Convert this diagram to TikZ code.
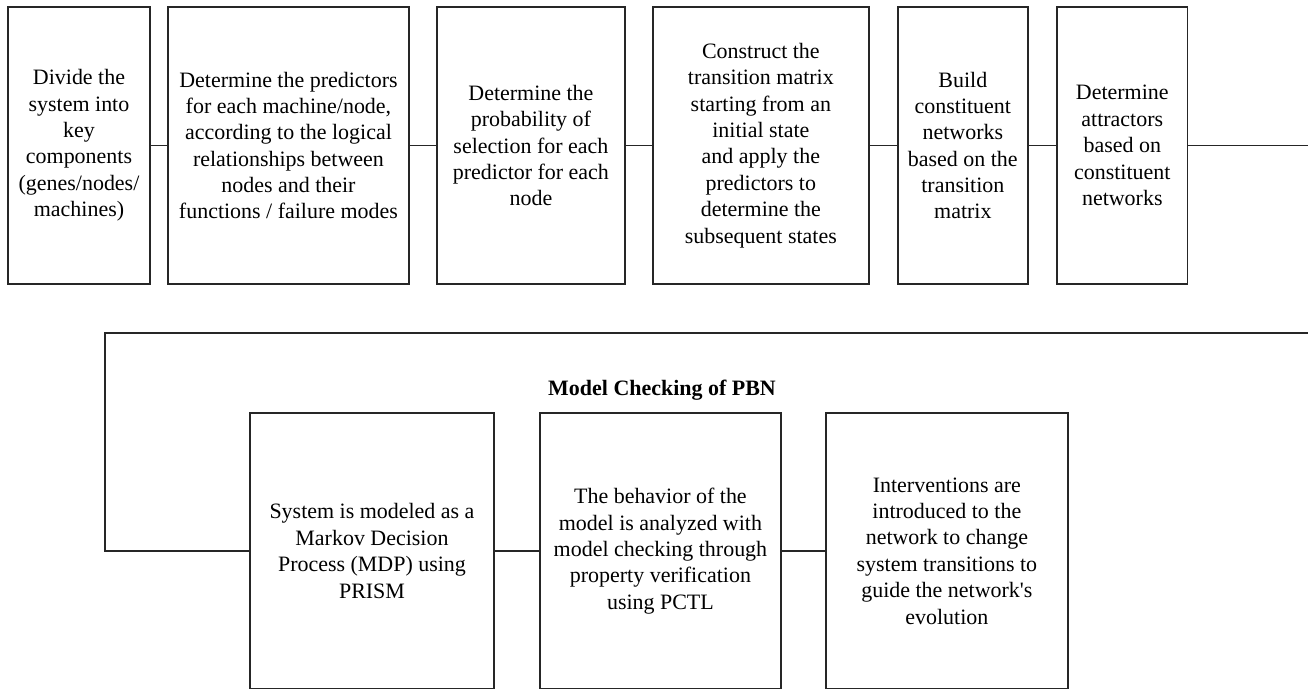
\documentclass[tikz,border=0pt]{standalone}
\usepackage{fontspec}
\setmainfont{Liberation Serif}
\usetikzlibrary{positioning}

\begin{document}
\begin{tikzpicture}[x=0.02cm,y=-0.02cm]
\tikzset{etape/.style={draw=black!85,line width=0.8pt,align=center,inner sep=0pt,outer sep=0pt,
  minimum height=5.54cm,font=\fontsize{12.5}{15}\selectfont}} %boite d'une etape
\tikzset{lien/.style={draw=black!85,line width=0.8pt}} %trait de liaison

\useasboundingbox (0,0) rectangle (1308,689);
\clip (0,0) rectangle (1308,689);

% premiere ligne : construction du PBN
\node[etape,minimum width=2.84cm] (diviser) at (79,145.5) {Divide the\\system into\\key\\components\\(genes/nodes/\\machines)};
\node[etape,minimum width=4.82cm,right=0.36cm of diviser] (predicteurs) {Determine the predictors\\for each machine/node,\\according to the logical\\relationships between\\nodes and their\\functions / failure modes};
\node[etape,minimum width=3.76cm,right=0.56cm of predicteurs] (proba) {Determine the\\probability of\\selection for each\\predictor for each\\node};
\node[etape,minimum width=4.32cm,right=0.56cm of proba] (matrice) {Construct the\\transition matrix\\starting from an\\initial state\\and apply the\\predictors to\\determine the\\subsequent states};
\node[etape,minimum width=2.60cm,right=0.58cm of matrice] (reseaux) {Build\\constituent\\networks\\based on the\\transition\\matrix};
\node[etape,minimum width=2.62cm,right=0.58cm of reseaux] (attracteurs) {Determine\\attractors\\based on\\constituent\\networks};

% deuxieme ligne : model checking
\node[font=\bfseries\fontsize{12.5}{15}\selectfont] (titre) at (662,390) {Model Checking of PBN};
\node[etape,minimum width=4.88cm,minimum height=5.52cm] (mdp) at (372,551) {System is modeled as a\\Markov Decision\\Process (MDP) using\\PRISM};
\node[etape,minimum width=4.82cm,minimum height=5.52cm,right=0.92cm of mdp] (pctl) {The behavior of the\\model is analyzed with\\model checking through\\property verification\\using PCTL};
\node[etape,minimum width=4.84cm,minimum height=5.52cm,right=0.90cm of pctl] (interv) {Interventions are\\introduced to the\\network to change\\system transitions to\\guide the network\textquotesingle s\\evolution};

\draw[lien] (diviser) -- (predicteurs);
\draw[lien] (predicteurs) -- (proba);
\draw[lien] (proba) -- (matrice);
\draw[lien] (matrice) -- (reseaux);
\draw[lien] (reseaux) -- (attracteurs);

% retour vers la deuxieme ligne (passe hors du cadre a droite)
\coordinate (sortie) at (1330,333);
\coordinate (retour) at (105,333);
\draw[lien] (attracteurs.east) -| (sortie) -- (retour) |- (mdp.west);
\draw[lien] (mdp) -- (pctl);
\draw[lien] (pctl) -- (interv);
\end{tikzpicture}
\end{document}
